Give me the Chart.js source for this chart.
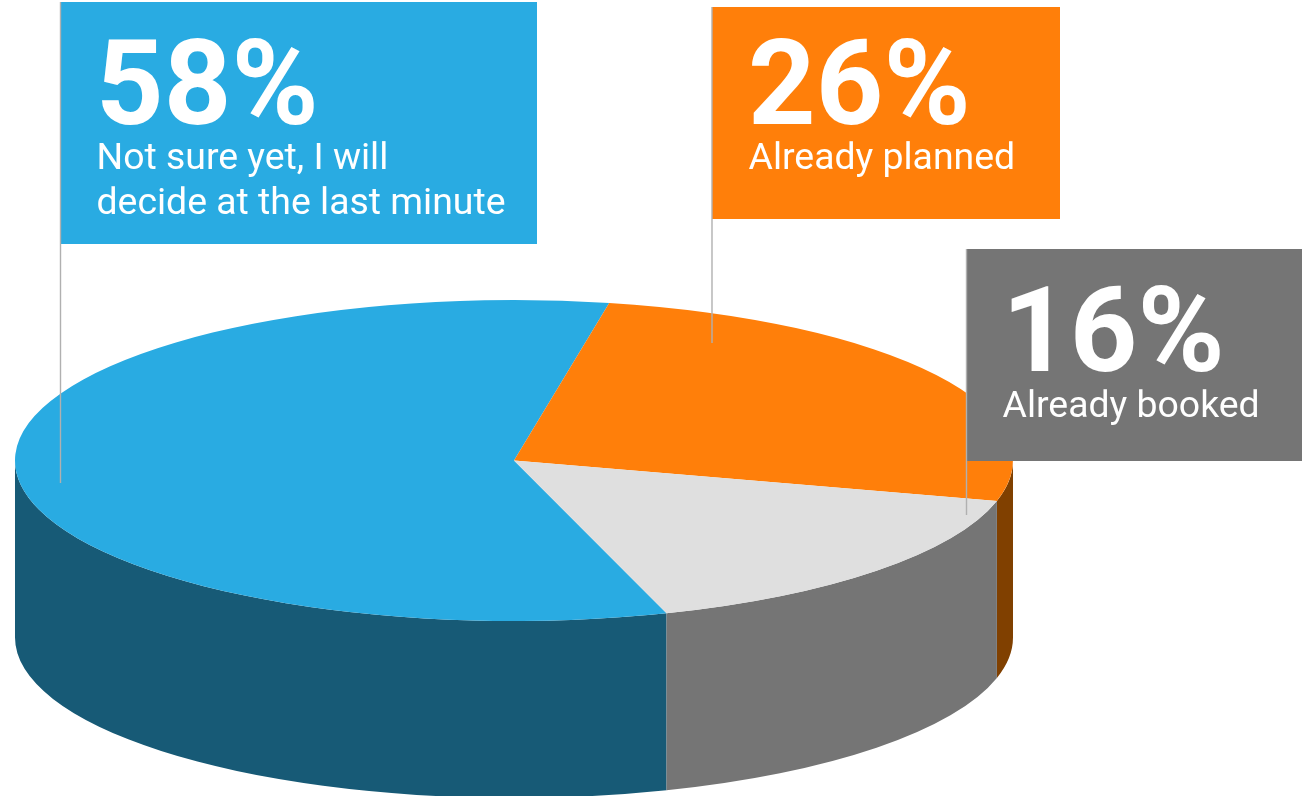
<!DOCTYPE html>
<html lang="en">
<head>
<meta charset="utf-8">
<title>Travel booking plans</title>
<script src="https://cdn.jsdelivr.net/npm/chart.js@4/dist/chart.umd.min.js"></script>
<style>
  html, body { margin: 0; padding: 0; background: #fff; overflow: hidden; }
  canvas { display: block; }
</style>
</head>
<body>
<canvas id="pie" width="1302" height="796"></canvas>
<script>
// Share of respondents per answer
const answers = [['Not sure yet, I will', 'decide at the last minute'], ['Already planned'], ['Already booked']];
const shares = [58, 26, 16];
const topColors = ['#29abe2', '#ff7f0a', '#dfdfdf'];
const wallColors = ['#175a76', '#804000', '#757575'];
const boxColors = ['#29abe2', '#ff7f0a', '#757575'];

// Geometry of the tilted disc
const SQUASH = 0.3216;
const DEPTH = 177;
const TAU = Math.PI * 2;

// Callout boxes with their leader lines and text anchors
const callouts = [
  { x: 61, y: 2, w: 476, h: 242, lineX: 60.5, lineTop: 2, lineBottom: 483, pctX: 96, pctY: 124, textX: 96.5, textY: [169, 214] },
  { x: 712, y: 7, w: 348, h: 212, lineX: 712, lineTop: 7, lineBottom: 343, pctX: 748, pctY: 124, textX: 748.5, textY: [169] },
  { x: 967, y: 249, w: 335, h: 212, lineX: 966.5, lineTop: 249, lineBottom: 515, pctX: 1002, pctY: 371, textX: 1002.5, textY: [417] }
];

// Extrudes the visible lower rim of every slice below the disc
const rimPlugin = {
  id: 'rim',
  beforeDatasetsDraw(chart) {
    const ctx = chart.ctx;
    chart.getDatasetMeta(0).data.forEach((arc, i) => {
      const { x, y, startAngle, endAngle, outerRadius } = arc.getProps(['x', 'y', 'startAngle', 'endAngle', 'outerRadius']);
      const ry = outerRadius * SQUASH;
      for (const shift of [-TAU, 0, TAU]) {
        const a0 = Math.max(startAngle + shift, 0);
        const a1 = Math.min(endAngle + shift, Math.PI);
        if (a1 <= a0) continue;
        ctx.beginPath();
        ctx.ellipse(x, y, outerRadius, ry, 0, a0, a1);
        ctx.ellipse(x, y + DEPTH, outerRadius, ry, 0, a1, a0, true);
        ctx.closePath();
        ctx.fillStyle = wallColors[i];
        ctx.fill();
      }
    });
    // Flatten the disc for the slices the library draws next
    const first = chart.getDatasetMeta(0).data[0];
    ctx.save();
    ctx.translate(0, first.y);
    ctx.scale(1, SQUASH);
    ctx.translate(0, -first.y);
  },
  afterDatasetsDraw(chart) {
    chart.ctx.restore();
  }
};

// Coloured label boxes with leader lines, large percentage and answer text
const calloutPlugin = {
  id: 'callouts',
  afterDraw(chart) {
    const ctx = chart.ctx;
    ctx.save();
    ctx.textBaseline = 'alphabetic';
    ctx.textAlign = 'left';
    callouts.forEach((c, i) => {
      ctx.fillStyle = boxColors[i];
      ctx.fillRect(c.x, c.y, c.w, c.h);
      ctx.strokeStyle = '#b0b0b0';
      ctx.lineWidth = 1.4;
      ctx.beginPath();
      ctx.moveTo(c.lineX, c.lineTop);
      ctx.lineTo(c.lineX, c.lineBottom);
      ctx.stroke();
      ctx.fillStyle = '#ffffff';
      ctx.font = '700 118px Roboto';
      ctx.fillText(shares[i] + '%', c.pctX, c.pctY);
      ctx.font = '400 37.4px Roboto';
      answers[i].forEach((line, n) => ctx.fillText(line, c.textX, c.textY[n]));
    });
    ctx.restore();
  }
};

new Chart(document.getElementById('pie'), {
  type: 'pie',
  data: {
    labels: answers.map(a => a.join(' ')),
    datasets: [{
      data: shares,
      backgroundColor: topColors,
      borderWidth: 0,
      clip: false
    }]
  },
  options: {
    responsive: false,
    animation: false,
    rotation: 162.2,
    radius: 499,
    events: [],
    layout: { padding: { top: 125, right: 274, left: 0, bottom: 0 } },
    plugins: { legend: { display: false }, tooltip: { enabled: false } }
  },
  plugins: [rimPlugin, calloutPlugin]
});
</script>
</body>
</html>
